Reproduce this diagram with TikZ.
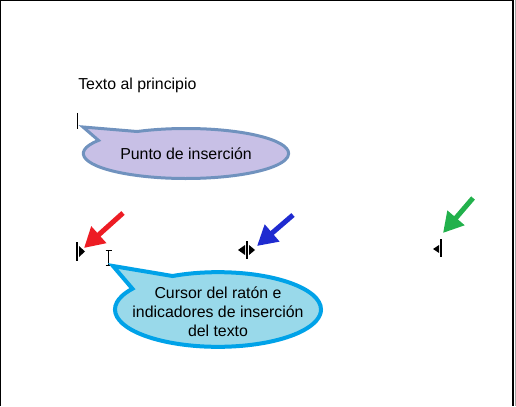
\documentclass[tikz,border=0pt]{standalone}
\usepackage{fontspec}
\setmainfont{Liberation Sans}
\usetikzlibrary{shapes.callouts,arrows.meta}

\definecolor{lavanda}{HTML}{C8C0E6}
\definecolor{bordelav}{HTML}{7092BE}
\definecolor{celeste}{HTML}{99D9EA}
\definecolor{bordecel}{HTML}{00A2E8}
\definecolor{rojo}{HTML}{ED1C24}
\definecolor{azul}{HTML}{1F2BD0}
\definecolor{verde}{HTML}{22B14C}

\tikzset{
  globo/.style={ellipse callout, inner sep=0pt, outer sep=0pt, callout pointer arc=30},
  texto/.style={font=\fontsize{11.9}{14.25}\selectfont, align=center},
  flecha/.style={line width=3.75pt, -{Triangle[width=16pt,length=15pt]}},
  marca/.style={line width=0.8pt},
}

\begin{document}
\begin{tikzpicture}[x=0.75pt, y=-0.75pt]
    \useasboundingbox (0,0) rectangle (516,406);

    % Borde de la pagina
    \draw[line width=1.1pt] (0.75,406) -- (0.75,0.75) -- (512,0.75);
    \draw[line width=1.8pt] (513,0) -- (513,406);
    \draw[gray!70, line width=0.9pt] (515.2,0) -- (515.2,406);

    % Texto y cursor de insercion
    \node[texto, anchor=base west, inner sep=0pt] (principio) at (78,90) {Texto al principio};
    \draw[marca] (77.5,113) -- (77.5,129);

    % Globo superior
    \node[globo, fill=lavanda, draw=bordelav, line width=2.25pt,
          minimum width=154pt, minimum height=37.5pt,
          callout absolute pointer={(83,127)},
          label={[texto]center:Punto de inserción}] (globoins) at (186,153.5) {};

    % Indicadores de insercion
    \draw[marca] (77,242) -- (77,261);
    \fill (79,246) -- (85,251.5) -- (79,257) -- cycle;

    \draw[marca] (247,241) -- (247,259);
    \fill (245,245) -- (238,250) -- (245,255) -- cycle;
    \fill (249,245) -- (255,250) -- (249,255) -- cycle;

    \draw[marca] (441,239) -- (441,257);
    \fill (439,245) -- (433,249) -- (439,253) -- cycle;

    % Cursor del raton
    \draw[line width=0.75pt] (108,250) -- (108,265)
        (105.5,250) -- (111.5,250) (105.5,265) -- (111.5,265);

    % Flechas
    \coordinate (rojoA) at (123,213);
    \coordinate (rojoB) at (84,248);
    \coordinate (azulA) at (293,215);
    \coordinate (azulB) at (257,246);
    \coordinate (verdeA) at (473,198);
    \coordinate (verdeB) at (443,233);
    \draw[flecha, rojo] (rojoA) -- (rojoB);
    \draw[flecha, azul] (azulA) -- (azulB);
    \draw[flecha, verde] (verdeA) -- (verdeB);

    % Globo inferior
    \node[globo, fill=celeste, draw=bordecel, line width=3pt,
          minimum width=154.5pt, minimum height=56pt,
          callout absolute pointer={(113,266)},
          label={[texto, yshift=-1.5pt]center:Cursor del ratón e\\indicadores de inserción\\del texto}] (globocursor) at (218,309.5) {};
\end{tikzpicture}
\end{document}
